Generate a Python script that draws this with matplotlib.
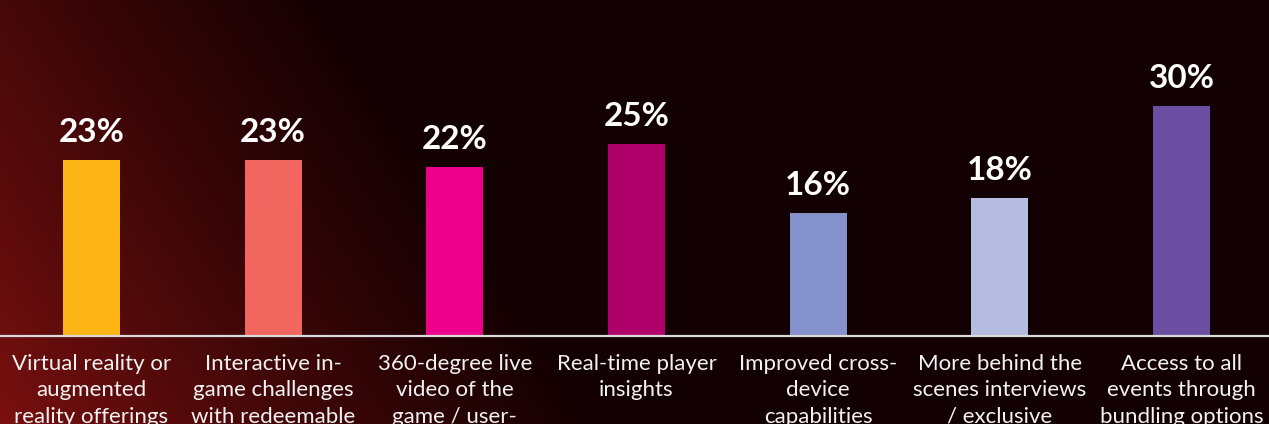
import numpy as np
import matplotlib
matplotlib.use("Agg")
import matplotlib.pyplot as plt

categories = [
    "Virtual reality or\naugmented\nreality offerings",
    "Interactive in-\ngame challenges\nwith redeemable",
    "360-degree live\nvideo of the\ngame / user-",
    "Real-time player\ninsights",
    "Improved cross-\ndevice\ncapabilities",
    "More behind the\nscenes interviews\n/ exclusive",
    "Access to all\nevents through\nbundling options",
]
values = [23, 23, 22, 25, 16, 18, 30]
value_labels = ["23%", "23%", "22%", "25%", "16%", "18%", "30%"]
colors = ["#FDB515", "#F26660", "#EC008C", "#B0006A", "#8591CB", "#B6BCE0", "#6A4FA3"]

W, H, DPI = 1269, 424, 100
fig = plt.figure(figsize=(W / DPI, H / DPI), dpi=DPI)

# background gradient (bottom-left dark red -> top-right near black)
bg = fig.add_axes([0, 0, 1, 1], zorder=0)
yy, xx = np.mgrid[0:H, 0:W]
f = 0.00165 * xx + 0.00106 * (H - yy)
f = np.clip(f, 0, 1) ** 0.85
c0 = np.array([124, 16, 16]) / 255.0
c1 = np.array([18, 0, 2]) / 255.0
img = c0[None, None, :] * (1 - f[..., None]) + c1[None, None, :] * f[..., None]
bg.imshow(img, aspect="auto", extent=[0, 1, 0, 1], origin="upper")
bg.axis("off")

base_px = 336
ax = fig.add_axes([0, (H - base_px) / H, 1, base_px / H], zorder=1)
ax.patch.set_alpha(0)
px_per_unit = 230 / 30
ax.set_ylim(0, base_px / px_per_unit)
step = 181.67
x0 = -91.5 / step
ax.set_xlim(x0, x0 + W / step)

x = np.arange(len(values))
ax.bar(x, values, width=57 / step, color=colors, zorder=2)

for xi, v, lab in zip(x, values, value_labels):
    ax.annotate(lab, (xi, v), xytext=(0, 18 * 72 / DPI), textcoords="offset points",
                ha="center", va="baseline", color="white", fontsize=24,
                fontweight="bold", family=["Lato", "DejaVu Sans"])

for s in ["top", "right", "left"]:
    ax.spines[s].set_visible(False)
ax.spines["bottom"].set_color("#D9D9D9")
ax.spines["bottom"].set_linewidth(1.6)
ax.set_yticks([])
ax.set_xticks(x)
ax.set_xticklabels(categories, color="#F2F2F2", fontsize=16,
                   family=["Lato", "DejaVu Sans"], linespacing=1.39)
for lbl in ax.get_xticklabels():
    lbl.set_multialignment("center")
ax.tick_params(axis="x", length=0, pad=13)

fig.savefig("out.png", dpi=DPI)
